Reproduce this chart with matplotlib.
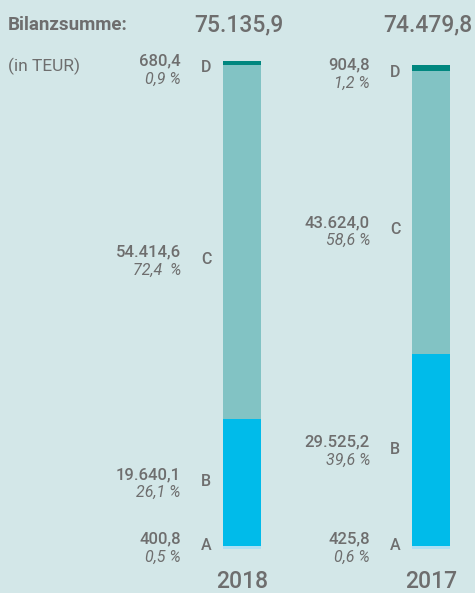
import matplotlib
matplotlib.use("Agg")
import matplotlib.pyplot as plt

plt.rcParams['font.family'] = ['Roboto', 'DejaVu Sans']

years = ["2018", "2017"]
segments = ["A", "B", "C", "D"]
values_2018 = [400.8, 19640.1, 54414.6, 680.4]
values_2017 = [425.8, 29525.2, 43624.0, 904.8]
pct_2018 = ["0,5 %", "26,1 %", "72,4  %", "0,9 %"]
pct_2017 = ["0,6 %", "39,6 %", "58,6 %", "1,2 %"]
title_label = "Bilanzsumme:"
unit_label = "(in TEUR)"

colors = ["#aedff3", "#00bbea", "#82c3c4", "#00877f"]
bg = "#d3e7e8"
txt = "#6e6e6e"


def de_fmt(v):
    s = f"{v:,.1f}"
    return s.replace(",", "X").replace(".", ",").replace("X", ".")


W, H = 475, 593
fig = plt.figure(figsize=(W / 100, H / 100), dpi=100, facecolor=bg)
ax = fig.add_axes([0, 44 / H, 1, 488 / H])
ax.set_facecolor("none")
ax.axis("off")

all_vals = [values_2018, values_2017]
all_pct = [pct_2018, pct_2017]
total_max = sum(values_2018)
ax.set_ylim(0, total_max)
ax.set_xlim(-242 / 189, (W - 242) / 189)
bw = 38 / 189

for xi, (vals, pcts, yr) in enumerate(zip(all_vals, all_pct, years)):
    bottom = 0.0
    for si, (v, p, seg) in enumerate(zip(vals, pcts, segments)):
        ax.bar(xi, v, bottom=bottom, width=bw, color=colors[si], linewidth=0)
        top = bottom + v
        mid = bottom + v / 2
        if seg == "A":
            anchor, dy = bottom, 3
        elif seg == "B":
            anchor, dy = mid, 1
        elif seg == "C":
            anchor, dy = mid, -17
        else:
            anchor, dy = top, -7
        ax.annotate(seg, xy=(xi, anchor), xytext=(-36, dy), textcoords="offset pixels",
                    ha="center", va="center", fontsize=11.5, color=txt, fontweight="medium")
        ax.annotate(de_fmt(v), xy=(xi, anchor), xytext=(-61, dy + 7), textcoords="offset pixels",
                    ha="right", va="center", fontsize=12, color=txt, fontweight="medium")
        ax.annotate(p, xy=(xi, anchor), xytext=(-61, dy - 11), textcoords="offset pixels",
                    ha="right", va="center", fontsize=11.5, color=txt, style="italic")
        bottom = top
    total = sum(vals)
    ax.annotate(de_fmt(total), xy=(xi, H - 25), xycoords=("data", "figure pixels"),
                xytext=(-3, 0), textcoords="offset pixels",
                ha="center", va="center", fontsize=16.5, color=txt, fontweight="medium")
    ax.annotate(yr, xy=(xi, 0), xytext=(0, -33), textcoords="offset pixels",
                ha="center", va="center", fontsize=16.5, color=txt, fontweight="medium")

fig.text(8 / W, 1 - 25 / H, title_label, ha="left", va="center", fontsize=13.5,
         color=txt, fontweight="bold")
fig.text(8 / W, 1 - 66 / H, unit_label, ha="left", va="center", fontsize=12.5, color=txt)

fig.savefig("out.png", dpi=100, facecolor=bg)
